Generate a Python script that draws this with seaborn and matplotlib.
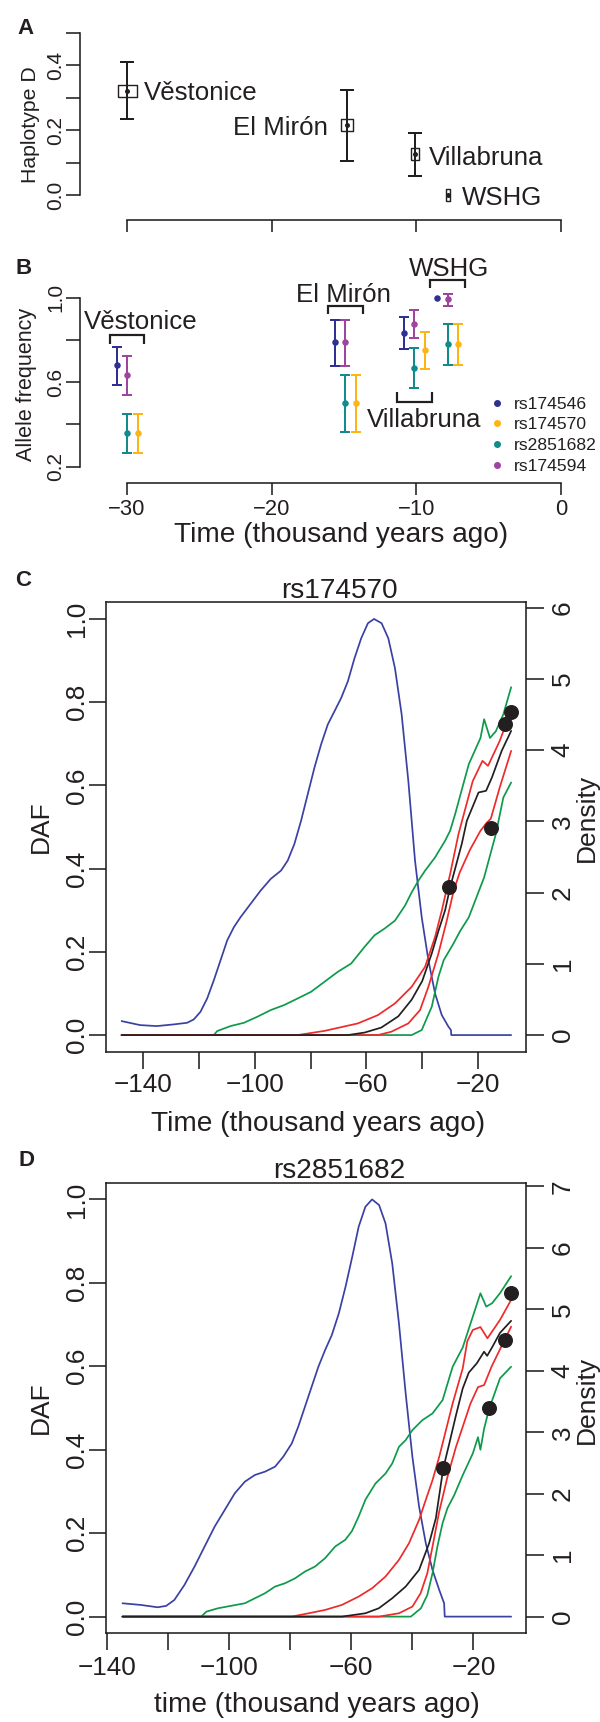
import numpy as np
import pandas as pd
import matplotlib
matplotlib.use("Agg")
import matplotlib.pyplot as plt
import seaborn as sns
from matplotlib.lines import Line2D

# ======================= DATA =======================
# Panel A : haplotype D frequency per ancient population
a_pops = ["Věstonice", "El Mirón", "Villabruna", "WSHG"]
a_time = [-30.0, -14.8, -10.1, -7.8]
a_freq = [0.322, 0.216, 0.127, 0.0]
a_low = [0.234, 0.105, 0.059, 0.0]
a_high = [0.410, 0.324, 0.192, 0.0]
a_yticks = [0.0, 0.1, 0.2, 0.3, 0.4, 0.5]
a_yticklabels = ["0.0", "", "0.2", "", "0.4", ""]

# Panel B : allele frequencies of four SNPs
b_pops = ["Věstonice", "El Mirón", "Villabruna", "WSHG"]
b_time = [-30.0, -14.9, -10.13, -7.83]
snps = ["rs174546", "rs174570", "rs2851682", "rs174594"]
rs174546_f = [0.680, 0.790, 0.835, 1.000]
rs174546_lo = [0.588, 0.675, 0.758, 1.000]
rs174546_hi = [0.766, 0.896, 0.910, 1.000]
rs174570_f = [0.359, 0.499, 0.752, 0.779]
rs174570_lo = [0.265, 0.364, 0.662, 0.680]
rs174570_hi = [0.448, 0.632, 0.838, 0.875]
rs2851682_f = [0.359, 0.499, 0.667, 0.779]
rs2851682_lo = [0.265, 0.364, 0.571, 0.680]
rs2851682_hi = [0.448, 0.632, 0.763, 0.875]
rs174594_f = [0.632, 0.790, 0.878, 0.992]
rs174594_lo = [0.540, 0.675, 0.811, 0.962]
rs174594_hi = [0.723, 0.896, 0.942, 1.016]
b_yticks = [0.2, 0.4, 0.6, 0.8, 1.0]
b_yticklabels = ["0.2", "", "0.6", "", "1.0"]
ab_xticks = [-30, -20, -10, 0]
ab_xticklabels = ["\u221230", "\u221220", "\u221210", "0"]

# Panel C : rs174570 trajectories (time in kya, DAF) and density
c_blue_t = [-147.8, -141.2, -135.2, -129.2, -124.3, -121.9, -119.5, -117.1, -114.7, -112.3,
            -109.9, -107.5, -105.1, -101.5, -97.9, -94.3, -90.6, -88.2, -85.8, -83.4,
            -81.0, -78.6, -76.2, -73.8, -71.4, -69.0, -66.6, -64.2, -61.8, -59.4,
            -57.2, -54.5, -52.1, -49.7, -47.3, -44.9, -42.5, -40.1, -37.7, -35.3,
            -32.9, -30.5, -29.6, -29.5, -8.0]
c_blue_d = [0.196, 0.140, 0.126, 0.149, 0.172, 0.219, 0.326, 0.513, 0.769, 1.049,
            1.329, 1.515, 1.655, 1.842, 2.028, 2.191, 2.308, 2.448, 2.681, 3.007,
            3.380, 3.752, 4.080, 4.359, 4.545, 4.731, 4.965, 5.291, 5.570, 5.780,
            5.840, 5.780, 5.570, 5.150, 4.500, 3.566, 2.448, 1.655, 1.049, 0.583,
            0.280, 0.117, 0.070, 0.0, 0.0]
c_gup_t = [-147.8, -114.7, -113.5, -108.7, -103.9, -99.1, -94.3, -89.5, -84.6, -79.8,
           -75.0, -70.2, -65.4, -60.6, -57.0, -53.4, -49.7, -46.1, -43.7, -41.3,
           -38.9, -35.3, -31.7, -29.9, -28.1, -25.7, -23.2, -19.0, -17.7, -15.6,
           -13.5, -10.8, -8.0]
c_gup_v = [0.0, 0.0, 0.0096, 0.0216, 0.0295, 0.044, 0.060, 0.072, 0.088, 0.104,
           0.128, 0.152, 0.172, 0.212, 0.240, 0.256, 0.275, 0.311, 0.343, 0.371,
           0.395, 0.427, 0.467, 0.491, 0.531, 0.590, 0.651, 0.714, 0.759, 0.714,
           0.730, 0.771, 0.836]
c_rup_t = [-147.8, -84.6, -75.0, -63.0, -55.8, -49.7, -43.7, -38.9, -35.3, -32.9,
           -29.9, -26.9, -21.8, -18.3, -16.3, -12.1, -8.0]
c_rup_v = [0.0, 0.0, 0.010, 0.028, 0.048, 0.076, 0.116, 0.164, 0.236, 0.299,
           0.387, 0.483, 0.610, 0.659, 0.647, 0.707, 0.780]
c_med_t = [-147.8, -66.6, -60.6, -54.6, -48.5, -43.7, -39.9, -36.5, -34.1, -31.7,
           -29.9, -28.1, -25.7, -23.9, -19.7, -17.0, -14.9, -11.4, -8.0]
c_med_v = [0.0, 0.0, 0.006, 0.018, 0.045, 0.085, 0.130, 0.196, 0.250, 0.300,
           0.355, 0.400, 0.460, 0.515, 0.583, 0.587, 0.619, 0.683, 0.731]
c_rlo_t = [-147.8, -55.8, -51.0, -44.9, -40.7, -37.7, -34.1, -31.1, -28.7, -26.5,
           -22.8, -19.0, -16.8, -15.3, -12.1, -8.0]
c_rlo_v = [0.0, 0.0, 0.008, 0.028, 0.060, 0.116, 0.196, 0.275, 0.345, 0.390,
           0.445, 0.491, 0.510, 0.520, 0.595, 0.683]
c_glo_t = [-147.8, -43.7, -40.1, -36.5, -34.1, -32.2, -28.7, -26.3, -23.2, -17.7,
           -13.5, -10.8, -8.0]
c_glo_v = [0.0, 0.0, 0.012, 0.068, 0.140, 0.180, 0.220, 0.250, 0.283, 0.379,
           0.483, 0.571, 0.607]
c_dot_t = [-30.3, -15.2, -10.3, -8.0]
c_dot_v = [0.355, 0.497, 0.747, 0.777]
c_dens_ticks = [0, 1, 2, 3, 4, 5, 6]

# Panel D : rs2851682
d_blue_t = [-135.0, -129.0, -123.5, -120.7, -118.0, -114.7, -111.4, -108.1, -104.8, -101.5,
            -98.2, -94.9, -91.6, -88.3, -85.0, -82.3, -79.5, -77.4, -75.2, -73.0,
            -70.8, -68.6, -66.4, -64.1, -61.9, -59.7, -57.6, -55.4, -53.2, -50.9,
            -48.8, -46.6, -44.4, -42.2, -40.0, -37.8, -35.6, -33.4, -31.2, -29.6,
            -29.4, -7.64]
d_blue_d = [0.217, 0.190, 0.152, 0.174, 0.271, 0.515, 0.813, 1.139, 1.464, 1.735,
            2.007, 2.196, 2.305, 2.359, 2.440, 2.603, 2.820, 3.091, 3.416, 3.742,
            4.067, 4.338, 4.582, 4.935, 5.369, 5.857, 6.345, 6.670, 6.790, 6.697,
            6.399, 5.748, 4.772, 3.633, 2.603, 1.790, 1.193, 0.759, 0.434, 0.217,
            0.0, 0.0]
d_gup_t = [-135.0, -109.2, -107.5, -103.7, -99.3, -94.9, -91.6, -88.3, -85.0, -81.7,
           -78.4, -75.2, -71.9, -68.6, -65.3, -62.0, -59.8, -57.6, -55.4, -52.1,
           -48.8, -46.6, -44.4, -42.2, -40.0, -36.7, -33.4, -30.1, -26.8, -23.5,
           -21.5, -17.7, -15.8, -13.9, -11.3, -7.64]
d_gup_v = [0.0, 0.0, 0.012, 0.020, 0.026, 0.032, 0.044, 0.056, 0.072, 0.080,
           0.092, 0.108, 0.120, 0.140, 0.168, 0.184, 0.205, 0.240, 0.280, 0.319,
           0.343, 0.367, 0.407, 0.423, 0.447, 0.471, 0.487, 0.519, 0.599, 0.645,
           0.690, 0.775, 0.743, 0.751, 0.775, 0.816]
d_rup_t = [-135.0, -79.5, -74.0, -68.6, -63.1, -57.6, -53.2, -48.8, -44.4, -41.1,
           -37.8, -35.6, -33.4, -31.2, -29.0, -26.8, -23.5, -22.0, -20.2, -17.7,
           -15.4, -11.3, -7.64]
d_rup_v = [0.0, 0.0, 0.008, 0.016, 0.028, 0.048, 0.068, 0.096, 0.136, 0.176,
           0.232, 0.280, 0.327, 0.383, 0.447, 0.511, 0.595, 0.660, 0.687, 0.694,
           0.667, 0.711, 0.759]
d_med_t = [-135.0, -63.1, -55.4, -51.0, -46.6, -42.2, -37.8, -34.5, -32.3, -29.9,
           -27.9, -25.7, -23.5, -21.5, -18.9, -16.5, -15.5, -13.9, -11.3, -7.64]
d_med_v = [0.0, 0.0, 0.008, 0.020, 0.044, 0.072, 0.112, 0.176, 0.236, 0.355,
           0.415, 0.483, 0.547, 0.585, 0.607, 0.635, 0.625, 0.645, 0.680, 0.709]
d_rlo_t = [-135.0, -51.0, -44.4, -40.0, -37.3, -35.1, -33.4, -31.2, -28.5, -25.7,
           -23.5, -21.0, -18.5, -16.5, -14.0, -11.0, -9.7, -7.64]
d_rlo_v = [0.0, 0.0, 0.008, 0.024, 0.056, 0.104, 0.168, 0.252, 0.335, 0.407,
           0.455, 0.510, 0.550, 0.555, 0.600, 0.645, 0.664, 0.695]
d_glo_t = [-135.0, -40.5, -37.2, -35.1, -33.4, -31.8, -30.1, -28.5, -26.3, -23.5,
           -20.2, -18.5, -17.7, -16.5, -14.9, -11.3, -7.64]
d_glo_v = [0.0, 0.0, 0.020, 0.052, 0.104, 0.168, 0.224, 0.260, 0.291, 0.339,
           0.391, 0.430, 0.400, 0.450, 0.497, 0.571, 0.599]
d_dot_t = [-29.9, -14.9, -9.7, -7.64]
d_dot_v = [0.355, 0.500, 0.664, 0.775]
d_dens_ticks = [0, 1, 2, 3, 4, 5, 6, 7]

cd_xticks = [-140, -120, -100, -80, -60, -40, -20]
cd_xticklabels = ["\u2212140", "", "\u2212100", "", "\u221260", "", "\u221220"]
cd_yticks = [0.0, 0.2, 0.4, 0.6, 0.8, 1.0]
cd_yticklabels = ["0.0", "0.2", "0.4", "0.6", "0.8", "1.0"]

# ======================= STYLE =======================
sns.set_style("white")
plt.rcParams["font.family"] = ["Liberation Sans", "DejaVu Sans"]

W, H = 600, 1722
PT = 0.72  # points per pixel at 100 dpi
INK = "#231F20"
NAVY = "#2E3192"
ORANGE = "#FDB515"
TEAL = "#138A8C"
PURPLE = "#A0459F"
BLUE = "#3A41A3"
GREEN = "#0E9A4B"
RED = "#EE2A2A"
snp_colors = {"rs174546": NAVY, "rs174570": ORANGE, "rs2851682": TEAL, "rs174594": PURPLE}
snp_dodge = {"rs174546": -0.7, "rs174570": 0.75, "rs2851682": 0.0, "rs174594": 0.0}
LW_AX = 1.6 * PT
FS_TICK_AB = 15.0
FS_LABEL = 18.6

fig = plt.figure(figsize=(W / 100, H / 100), dpi=100)
fig.patch.set_facecolor("white")


def add_ax(x0, y0, x1, y1):
    return fig.add_axes([x0 / W, 1 - y1 / H, (x1 - x0) / W, (y1 - y0) / H])


def ftext(x, y, s, **kw):
    kw.setdefault("color", INK)
    return fig.text(x / W, 1 - y / H, s, **kw)


def open_axes(ax, ybounds, out_px):
    ax.patch.set_visible(False)
    for s in ("top", "right"):
        ax.spines[s].set_visible(False)
    for s in ("left", "bottom"):
        ax.spines[s].set_linewidth(LW_AX)
        ax.spines[s].set_color(INK)
    ax.spines["left"].set_bounds(*ybounds)
    ax.spines["bottom"].set_position(("outward", out_px * PT))
    ax.spines["bottom"].set_bounds(-30, 0)


AB_X0, AB_X1 = 80, 580
AB_XLIM = (-33.25, 1.33)

# ---------------------- Panel A ----------------------
axA = add_ax(AB_X0, 25, AB_X1, 205)
axA.set_xlim(*AB_XLIM)
axA.set_ylim(-0.0309, 0.5247)
open_axes(axA, (0, 0.5), 15)
axA.tick_params(axis="y", left=True, direction="out", length=14 * PT, width=LW_AX,
                color=INK, pad=4.5 * PT, labelsize=FS_TICK_AB, labelcolor=INK)
axA.tick_params(axis="x", bottom=True, direction="out", length=12 * PT, width=LW_AX,
                color=INK, labelbottom=False)
axA.set_yticks(a_yticks)
axA.set_yticklabels(a_yticklabels, rotation=90, rotation_mode="anchor",
                    ha="center", va="baseline")
axA.set_xticks(ab_xticks)

err_idx = [i for i in range(len(a_time)) if a_high[i] > a_low[i]]
axA.errorbar([a_time[i] for i in err_idx], [a_freq[i] for i in err_idx],
             yerr=[[a_freq[i] - a_low[i] for i in err_idx],
                   [a_high[i] - a_freq[i] for i in err_idx]],
             fmt="none", ecolor=INK, elinewidth=2 * PT, capsize=6.7 * PT, capthick=2 * PT)
A_BOX_W = [19, 12.7, 8.5, 4.6]
A_BOX_H = 12.8
for t, f, w in zip(a_time, a_freq, A_BOX_W):
    h = A_BOX_H
    verts = [(-w / 2, -h / 2), (w / 2, -h / 2), (w / 2, h / 2), (-w / 2, h / 2), (-w / 2, -h / 2)]
    axA.plot([t], [f], marker=verts, markersize=max(w, h) * PT, mfc="none",
             mec=INK, mew=1.4 * PT, ls="none", zorder=3)
sns.scatterplot(x=a_time, y=a_freq, ax=axA, color=INK, s=(5 * PT) ** 2,
                linewidth=0, legend=False, zorder=4)
A_LABEL_DX = [17, -18.5, 14.2, 13.5]
A_LABEL_DY = [0, 0, -1.8, -0.7]
A_LABEL_HA = ["left", "right", "left", "left"]
for name, t, f, dx, dy, ha in zip(a_pops, a_time, a_freq, A_LABEL_DX, A_LABEL_DY, A_LABEL_HA):
    axA.annotate(name, (t, f), xytext=(dx * PT, dy * PT), textcoords="offset points",
                 ha=ha, va="center_baseline", fontsize=FS_LABEL, color=INK)
axA.set_xlabel("")
axA.set_ylabel("")
ftext(25, 25.8, "A", fontweight="bold", fontsize=16, ha="center", va="center_baseline")
ftext(30.8, 124.5, "Haplotype D", rotation=90, rotation_mode="anchor", ha="center",
      va="center", fontsize=15.3)

# ---------------------- Panel B ----------------------
axB = add_ax(AB_X0, 255, AB_X1, 475)
axB.set_xlim(*AB_XLIM)
axB.set_ylim(0.1597, 1.2029)
open_axes(axB, (0.2, 1.0), 7.7)
axB.tick_params(axis="y", left=True, direction="out", length=14 * PT, width=LW_AX,
                color=INK, pad=4.5 * PT, labelsize=FS_TICK_AB, labelcolor=INK)
axB.tick_params(axis="x", bottom=True, direction="out", length=12.3 * PT, width=LW_AX,
                color=INK, pad=4.3 * PT, labelsize=15.8, labelcolor=INK)
axB.set_yticks(b_yticks)
axB.set_yticklabels(b_yticklabels, rotation=90, rotation_mode="anchor",
                    ha="center", va="baseline")
axB.set_xticks(ab_xticks)
axB.set_xticklabels(ab_xticklabels)

b_series = {
    "rs174546": (rs174546_f, rs174546_lo, rs174546_hi),
    "rs174594": (rs174594_f, rs174594_lo, rs174594_hi),
    "rs2851682": (rs2851682_f, rs2851682_lo, rs2851682_hi),
    "rs174570": (rs174570_f, rs174570_lo, rs174570_hi),
}
for snp, (f, lo, hi) in b_series.items():
    x = [t + snp_dodge[snp] for t in b_time]
    c = snp_colors[snp]
    idx = [i for i in range(len(x)) if hi[i] > lo[i]]
    axB.errorbar([x[i] for i in idx], [f[i] for i in idx],
                 yerr=[[f[i] - lo[i] for i in idx], [hi[i] - f[i] for i in idx]],
                 fmt="none", ecolor=c, elinewidth=2 * PT, capsize=4.8 * PT, capthick=2 * PT)
    sns.scatterplot(x=x, y=f, ax=axB, color=c, s=(6.5 * PT) ** 2, linewidth=0,
                    legend=False, zorder=4)
axB.set_xlabel("")
axB.set_ylabel("")

# population brackets (bar level, tip level) and labels (dx, y)
BR_HALF = 1.2
B_BRACKETS = {"Věstonice": (0.824, 0.782), "El Mirón": (0.963, 0.923),
              "Villabruna": (0.507, 0.552), "WSHG": (1.083, 1.045)}
B_LABEL_POS = {"Věstonice": (0.97, 0.895), "El Mirón": (-0.1, 1.027),
               "Villabruna": (0.67, 0.432), "WSHG": (0.13, 1.147)}
for name, t in zip(b_pops, b_time):
    yb, yt = B_BRACKETS[name]
    axB.plot([t - BR_HALF, t - BR_HALF, t + BR_HALF, t + BR_HALF], [yt, yb, yb, yt],
             color=INK, lw=2.2 * PT, solid_joinstyle="miter", solid_capstyle="butt")
    dx, ly = B_LABEL_POS[name]
    axB.text(t + dx, ly, name, ha="center", va="center_baseline", fontsize=FS_LABEL, color=INK)

for i, snp in enumerate(snps):
    yy = 402.7 + 20.7 * i
    fig.add_artist(Line2D([497.3 / W], [1 - yy / H], transform=fig.transFigure,
                          marker="o", ls="none", color=snp_colors[snp],
                          markersize=7 * PT, markeredgewidth=0))
    ftext(513.5, yy, snp, ha="left", va="center_baseline", fontsize=12.6)

ftext(24, 265.8, "B", fontweight="bold", fontsize=16, ha="center", va="center_baseline")
ftext(26.5, 384, "Allele frequency", rotation=90, rotation_mode="anchor", ha="center",
      va="center", fontsize=15.5)
ftext(341, 535, "Time (thousand years ago)", ha="center", va="center", fontsize=20.2)


# ---------------------- Panels C & D ----------------------
BOX_X0, BOX_X1 = 106, 526.2
FS_TICK_CD = 18.8


def panel_cd(y_top, y_bot, xlim, dmax, dticks, blue_t, blue_d, curves, dot_t, dot_v,
             title, title_y, xlabel, xlabel_x, xlabel_y, daf_y, dens_y, xpad,
             letter, letter_xy):
    ax = add_ax(BOX_X0, y_top, BOX_X1, y_bot)
    ax2 = ax.twinx()
    ax.set_xlim(*xlim)
    ax.set_ylim(-0.04, 1.04)
    ax2.set_ylim(-0.04 * dmax, 1.04 * dmax)
    sns.lineplot(x=blue_t, y=blue_d, ax=ax2, color=BLUE, linewidth=1.25,
                 estimator=None, sort=False, legend=False)
    for t, v, c in curves:
        sns.lineplot(x=t, y=v, ax=ax, color=c, linewidth=1.25,
                     estimator=None, sort=False, legend=False)
    sns.scatterplot(x=dot_t, y=dot_v, ax=ax, color=INK, s=(15 * PT) ** 2,
                    linewidth=0, legend=False, zorder=6)
    ax.set_zorder(ax2.get_zorder() + 1)
    ax.patch.set_visible(False)
    for s in ax.spines.values():
        s.set_visible(True)
        s.set_linewidth(LW_AX)
        s.set_color(INK)
    for s in ax2.spines.values():
        s.set_visible(False)
    ax.tick_params(axis="x", bottom=True, top=False, direction="out", length=16.5 * PT,
                   width=LW_AX, color=INK, pad=xpad, labelsize=FS_TICK_CD, labelcolor=INK)
    ax.tick_params(axis="y", left=True, right=False, direction="out", length=17 * PT,
                   width=LW_AX, color=INK, pad=4.7 * PT, labelsize=FS_TICK_CD, labelcolor=INK)
    ax2.tick_params(axis="y", right=True, left=False, direction="out", length=18 * PT,
                    width=LW_AX, color=INK, pad=6.6 * PT, labelsize=FS_TICK_CD, labelcolor=INK)
    ax.set_xticks(cd_xticks)
    ax.set_xticklabels(cd_xticklabels)
    ax.set_yticks(cd_yticks)
    ax.set_yticklabels(cd_yticklabels, rotation=90, rotation_mode="anchor",
                       ha="center", va="baseline")
    ax2.set_yticks(dticks)
    ax2.set_yticklabels([str(d) for d in dticks], rotation=90, rotation_mode="anchor",
                        ha="center", va="top")
    for a in (ax, ax2):
        a.set_xlabel("")
        a.set_ylabel("")
    ftext(339.4, title_y, title, ha="center", va="center_baseline", fontsize=20.2)
    ftext(xlabel_x, xlabel_y, xlabel, ha="center", va="center", fontsize=20.2)
    ftext(38.5, daf_y, "DAF", rotation=90, rotation_mode="anchor", ha="center",
          va="center_baseline", fontsize=19)
    ftext(584.5, dens_y, "Density", rotation=90, rotation_mode="anchor", ha="center",
          va="center_baseline", fontsize=19)
    ftext(letter_xy[0], letter_xy[1], letter, fontweight="bold", fontsize=16,
          ha="center", va="center_baseline")
    return ax


panel_cd(602.3, 1051.7, (-153.4, -2.6), 5.84, c_dens_ticks, c_blue_t, c_blue_d,
         [(c_gup_t, c_gup_v, GREEN), (c_glo_t, c_glo_v, GREEN),
          (c_rup_t, c_rup_v, RED), (c_rlo_t, c_rlo_v, RED),
          (c_med_t, c_med_v, INK)],
         c_dot_t, c_dot_v, "rs174570", 588.3, "Time (thousand years ago)", 318.3, 1124,
         826.7, 818.3, 5.3 * PT, "C", (23, 577.5))

panel_cd(1182.7, 1633.3, (-140.4, -2.7), 6.79, d_dens_ticks, d_blue_t, d_blue_d,
         [(d_gup_t, d_gup_v, GREEN), (d_glo_t, d_glo_v, GREEN),
          (d_rup_t, d_rup_v, RED), (d_rlo_t, d_rlo_v, RED),
          (d_med_t, d_med_v, INK)],
         d_dot_t, d_dot_v, "rs2851682", 1168.3, "time (thousand years ago)", 316.4, 1705,
         1408, 1400, 6 * PT, "D", (26, 1158.3))

fig.savefig("out.png", dpi=100, facecolor="white")
